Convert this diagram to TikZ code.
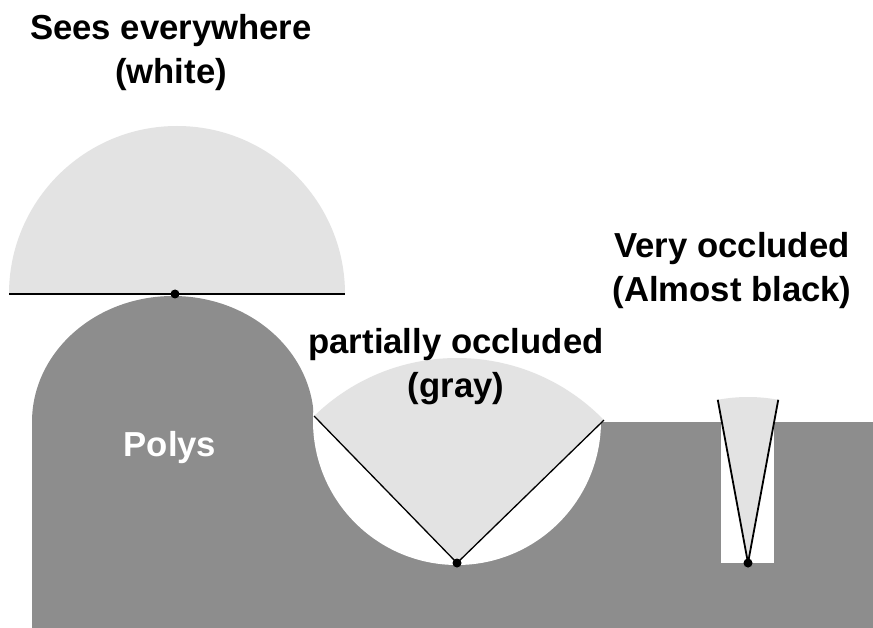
\documentclass[tikz,border=0pt]{standalone}
\usepackage{fontspec}
\setmainfont{Liberation Sans}
\usetikzlibrary{calc}
\definecolor{ground}{HTML}{8D8D8D}
\definecolor{vis}{HTML}{E3E3E3}
\begin{document}
\begin{tikzpicture}[x=1pt,y=-1pt,
  lbl/.style={font=\fontsize{34.7}{44}\selectfont\bfseries, inner sep=0pt, anchor=base},
  dot/.style={circle, fill=black, inner sep=0pt, minimum size=9pt},
  ray/.style={line width=1.3pt},
  thinray/.style={line width=1.8pt}]
\fill[white] (0,0) rectangle (873,628);
\useasboundingbox (0,0) rectangle (873,628);
% ground with bump
\fill[ground] (32,628) -- (32,422) arc[start angle=180,end angle=360,x radius=141,y radius=126] -- (873,422) -- (873,628) -- cycle;
% pit and slot
\fill[white] (457,421) circle[radius=144];
\fill[white] (721,422) rectangle (774,563);
% top hemisphere
\coordinate (HL) at (9,294);
\coordinate (HR) at (345,294);
\fill[vis] (HL) arc[start angle=180,end angle=360,radius=168] -- cycle;
\draw[line width=2pt] (HL) -- (HR);
% pit sector
\coordinate (P) at (457,563);
\coordinate (A) at ($(P)+(225.8:205)$);
\coordinate (B) at ($(P)+(315.8:205)$);
\fill[vis] (P) -- (A) arc[start angle=225.8,end angle=315.8,radius=205] -- cycle;
\draw[ray] (A) -- (P) -- (B);
% slot cone
\coordinate (Q) at (748,563);
\coordinate (L) at ($(Q)+(259.5:166)$);
\coordinate (R) at ($(Q)+(280.5:166)$);
\fill[vis] (Q) -- (L) arc[start angle=259.5,end angle=280.5,radius=166] -- cycle;
\draw[thinray] (L) -- (Q) -- (R);
% dots
\node[dot] (d1) at (175,294) {};
\node[dot] (d2) at (P) {};
\node[dot] (d3) at (Q) {};
% labels
\node[lbl] (s1) at (171,40) {Sees everywhere};
\node[lbl] (s2) at (171,84) {(white)};
\node[lbl] (v1) at (732,258) {Very occluded};
\node[lbl] (v2) at (732,302) {(Almost black)};
\node[lbl] (p1) at (456,353) {partially occluded};
\node[lbl] (p2) at (456,397) {(gray)};
\node[lbl, text=white] (poly) at (170,456) {Polys};
\end{tikzpicture}
\end{document}
